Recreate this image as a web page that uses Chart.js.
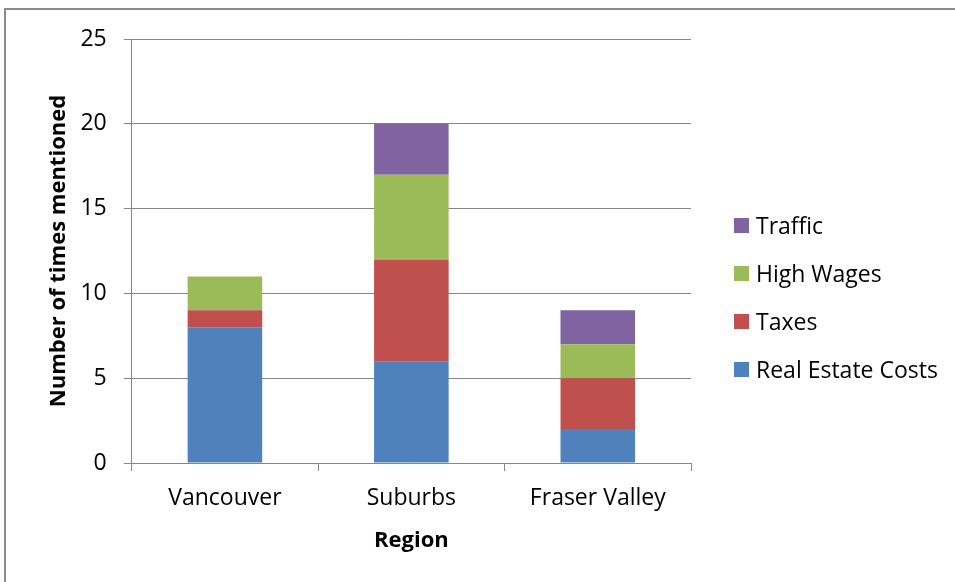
<!DOCTYPE html>
<html>
<head>
<meta charset="utf-8">
<script src="https://cdn.jsdelivr.net/npm/chart.js@4.4.0/dist/chart.umd.min.js"></script>
<style>
    html, body { margin: 0; padding: 0; background: #fff; overflow: hidden; }
    #wrap { position: relative; width: 955px; height: 582px; }
    #frame { position: absolute; left: 4px; top: 8px; width: 1000px; height: 700px; border: 2px solid #8c8c8c; box-sizing: border-box; }
    canvas { position: absolute; left: 0; top: 0; }
    #legenda { position: absolute; left: 734px; top: 201px; font-family: 'Open Sans', sans-serif; font-size: 23px; color: #000; }
    #legenda div { display: flex; align-items: center; height: 48px; white-space: nowrap; }
    #legenda span.caixa { display: inline-block; width: 15px; height: 15px; margin-right: 7px; }
</style>
</head>
<body>
<div id="wrap">
    <div id="frame"></div>
    <canvas id="grafico" width="955" height="582"></canvas>
    <div id="legenda"></div>
</div>
<script>
const regioes = ["Vancouver", "Suburbs", "Fraser Valley"];
const custosImoveis = [8, 6, 2];
const impostos = [1, 6, 3];
const salariosAltos = [2, 5, 2];
const transito = [0, 3, 2];
const ticksY = [0, 5, 10, 15, 20, 25];

const FONTE = "'Open Sans', sans-serif";
const CINZA = '#868686';

const series = [
    { label: 'Real Estate Costs', data: custosImoveis, cor: '#4F81BD' },
    { label: 'Taxes', data: impostos, cor: '#C0504D' },
    { label: 'High Wages', data: salariosAltos, cor: '#9BBB59' },
    { label: 'Traffic', data: transito, cor: '#8064A2' }
];

// legenda em ordem invertida, como no original
document.getElementById('legenda').innerHTML = series.slice().reverse()
    .map(s => `<div><span class="caixa" style="background:${s.cor}"></span>${s.label}</div>`)
    .join("");

new Chart(document.getElementById('grafico').getContext('2d'), {
    type: 'bar',
    data: {
        labels: regioes,
        datasets: series.map(s => ({
            label: s.label,
            data: s.data,
            backgroundColor: s.cor,
            borderWidth: 0,
            barPercentage: 0.4,
            categoryPercentage: 1
        }))
    },
    options: {
        responsive: false,
        animation: false,
        layout: { padding: { left: 46, right: 264, top: 39, bottom: 24 } },
        scales: {
            x: {
                stacked: true,
                grid: { offset: true, drawOnChartArea: false, drawTicks: true, tickLength: 8, color: CINZA },
                border: { color: CINZA, width: 1 },
                ticks: { color: '#000', font: { family: FONTE, size: 23 }, padding: 14 },
                title: { display: true, text: 'Region', color: '#000', font: { family: FONTE, size: 22, weight: 'bold' }, padding: { top: 1 } }
            },
            y: {
                stacked: true,
                min: 0,
                max: 25,
                afterBuildTicks: axis => { axis.ticks = ticksY.map(v => ({ value: v })); },
                afterFit: axis => { axis.width = 85.7; },
                grid: { color: CINZA, tickLength: 8 },
                border: { color: CINZA, width: 1 },
                ticks: { color: '#000', font: { family: FONTE, size: 23 }, padding: 17 },
                title: { display: true, text: 'Number of times mentioned', color: '#000', font: { family: FONTE, size: 22, weight: 'bold' }, padding: { top: 0, bottom: 0 } }
            }
        },
        plugins: {
            tooltip: { enabled: false },
            legend: { display: false }
        }
    }
});
</script>
</body>
</html>
